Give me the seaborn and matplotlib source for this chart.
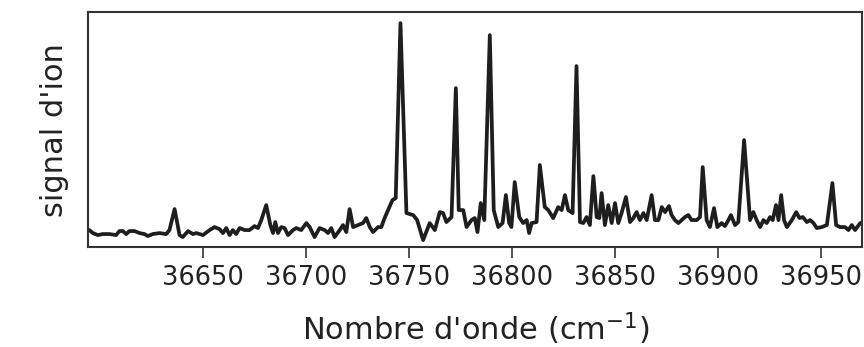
import matplotlib
matplotlib.use("Agg")
import matplotlib.pyplot as plt
import seaborn as sns
import pandas as pd

# Spectre d'ionisation
wavenumber = [
    36594.6, 36596.3, 36598.7, 36601.1, 36604.4, 36607.6, 36609.2, 36610.9, 36612.5, 36614.1,
    36616.5, 36619.0, 36621.4, 36623.0, 36625.4, 36628.7, 36631.9, 36633.5, 36636.0, 36638.4,
    36640.0, 36642.5, 36644.9, 36646.5, 36649.8, 36653.0, 36655.4, 36657.8, 36659.5, 36661.1,
    36662.7, 36664.3, 36665.9, 36667.6, 36670.0, 36672.4, 36674.8, 36676.5, 36678.1, 36680.5,
    36682.5, 36683.8, 36684.9, 36686.2, 36687.8, 36689.4, 36691.1, 36693.5, 36695.1, 36697.5,
    36700.0, 36701.6, 36704.0, 36706.4, 36708.9, 36710.5, 36712.1, 36713.7, 36716.2, 36717.8,
    36719.4, 36721.0, 36722.7, 36725.1, 36727.5, 36729.1, 36730.8, 36732.4, 36734.8, 36736.4,
    36738.0, 36739.7, 36741.8, 36743.4, 36745.7, 36748.6, 36751.9, 36753.8, 36756.7, 36759.9,
    36762.4, 36764.8, 36766.4, 36768.0, 36770.5, 36772.6, 36774.0, 36776.2, 36777.8, 36780.2,
    36781.8, 36783.1, 36784.7, 36786.4, 36789.1, 36791.0, 36793.2, 36795.3, 36796.9, 36798.5,
    36799.6, 36801.2, 36803.4, 36805.3, 36807.0, 36808.2, 36809.4, 36811.8, 36813.4, 36815.8,
    36817.5, 36819.9, 36822.3, 36824.0, 36825.6, 36827.2, 36829.3, 36831.2, 36832.9, 36834.5,
    36836.1, 36837.7, 36839.4, 36841.0, 36842.3, 36843.4, 36845.0, 36846.6, 36848.3, 36849.9,
    36851.5, 36853.1, 36855.2, 36857.2, 36858.8, 36860.4, 36862.0, 36863.7, 36865.3, 36867.7,
    36869.3, 36871.0, 36872.6, 36874.2, 36876.1, 36877.4, 36879.0, 36880.7, 36882.3, 36883.9,
    36885.5, 36887.1, 36889.6, 36891.2, 36892.5, 36894.4, 36896.0, 36898.0, 36899.6, 36901.7,
    36903.3, 36905.0, 36906.2, 36908.2, 36909.8, 36912.6, 36915.5, 36917.1, 36918.7, 36920.4,
    36922.0, 36923.6, 36925.2, 36926.5, 36928.1, 36929.3, 36930.6, 36932.0, 36933.4, 36935.8,
    36937.9, 36939.5, 36941.1, 36943.1, 36944.7, 36946.3, 36947.9, 36950.3, 36952.8, 36955.5,
    36957.3, 36959.2, 36961.6, 36963.3, 36964.9, 36966.5, 36969.0, 36970.6,
]
signal = [
    17, 14, 12, 13, 13, 12, 16, 16, 13, 16,
    16, 14, 13, 11, 13, 14, 13, 17, 38, 12,
    10, 16, 13, 14, 12, 17, 20, 18, 14, 19,
    12, 17, 13, 19, 17, 17, 21, 19, 27, 42,
    22, 14, 25, 14, 20, 19, 12, 17, 19, 17,
    24, 20, 10, 19, 17, 14, 19, 10, 17, 22,
    15, 38, 20, 22, 24, 29, 20, 15, 20, 20,
    29, 37, 47, 49, 224, 34, 32, 27, 7, 24,
    17, 35, 34, 25, 30, 159, 37, 37, 20, 27,
    29, 15, 44, 27, 212, 37, 20, 24, 52, 24,
    20, 65, 30, 24, 27, 14, 24, 25, 82, 40,
    37, 29, 40, 37, 52, 37, 34, 181, 25, 24,
    30, 22, 71, 30, 29, 54, 22, 42, 24, 44,
    24, 34, 50, 25, 29, 35, 27, 34, 27, 52,
    27, 27, 40, 35, 41, 32, 27, 24, 27, 30,
    32, 27, 27, 30, 80, 27, 20, 39, 20, 24,
    21, 27, 32, 22, 25, 107, 27, 35, 27, 20,
    27, 24, 30, 27, 42, 27, 52, 27, 20, 27,
    35, 29, 30, 25, 27, 24, 19, 20, 22, 64,
    22, 20, 20, 17, 22, 17, 24, 25,
]
x_ticks = [36650, 36700, 36750, 36800, 36850, 36900, 36950]

df = pd.DataFrame({"wavenumber": wavenumber, "signal": signal})

sns.set_style("ticks")
plt.rcParams["font.family"] = ["DejaVu Sans"]

fig = plt.figure(figsize=(8.64, 3.47), dpi=100)
ax = fig.add_axes([0.102, 0.288, 0.896, 0.677])

sns.lineplot(data=df, x="wavenumber", y="signal", color="#1e1e1e", linewidth=2.7, ax=ax)

ax.set_xlim(36594, 36970)
ax.set_ylim(0, 235)
ax.set_xticks(x_ticks)
ax.set_xticklabels([str(t) for t in x_ticks], fontsize=18.5, color="#222222")
ax.set_yticks([])
ax.tick_params(axis="x", length=8, width=1.2, color="#333333", pad=5)
for s in ax.spines.values():
    s.set_linewidth(1.5)
    s.set_color("#333333")

ax.set_xlabel("Nombre d'onde (cm$^{-1}$)", fontsize=22, color="#222222", labelpad=14)
ax.set_ylabel("signal d'ion", fontsize=22, color="#222222", labelpad=14)

fig.savefig("out.png", dpi=100)
